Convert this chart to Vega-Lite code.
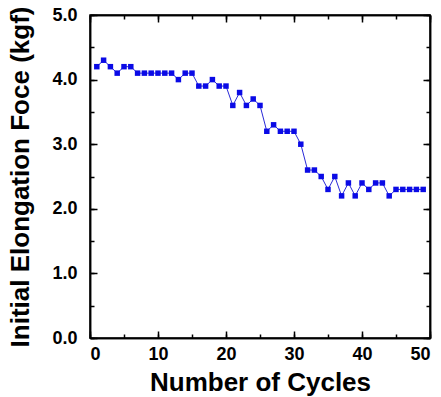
{
  "$schema": "https://vega.github.io/schema/vega-lite/v6.json",
  "width": 340,
  "height": 323,
  "autosize": {"type": "none"},
  "padding": {"left": 90, "top": 15, "right": 11, "bottom": 59},
  "background": "white",
  "config": {
    "view": {"stroke": "black", "strokeWidth": 1.5}
  },
  "data": {
    "values": [
      {"cycle": 1, "force": 4.2}, {"cycle": 2, "force": 4.3}, {"cycle": 3, "force": 4.2},
      {"cycle": 4, "force": 4.1}, {"cycle": 5, "force": 4.2}, {"cycle": 6, "force": 4.2},
      {"cycle": 7, "force": 4.1}, {"cycle": 8, "force": 4.1}, {"cycle": 9, "force": 4.1},
      {"cycle": 10, "force": 4.1}, {"cycle": 11, "force": 4.1}, {"cycle": 12, "force": 4.1},
      {"cycle": 13, "force": 4.0}, {"cycle": 14, "force": 4.1}, {"cycle": 15, "force": 4.1},
      {"cycle": 16, "force": 3.9}, {"cycle": 17, "force": 3.9}, {"cycle": 18, "force": 4.0},
      {"cycle": 19, "force": 3.9}, {"cycle": 20, "force": 3.9}, {"cycle": 21, "force": 3.6},
      {"cycle": 22, "force": 3.8}, {"cycle": 23, "force": 3.6}, {"cycle": 24, "force": 3.7},
      {"cycle": 25, "force": 3.6}, {"cycle": 26, "force": 3.2}, {"cycle": 27, "force": 3.3},
      {"cycle": 28, "force": 3.2}, {"cycle": 29, "force": 3.2}, {"cycle": 30, "force": 3.2},
      {"cycle": 31, "force": 3.0}, {"cycle": 32, "force": 2.6}, {"cycle": 33, "force": 2.6},
      {"cycle": 34, "force": 2.5}, {"cycle": 35, "force": 2.3}, {"cycle": 36, "force": 2.5},
      {"cycle": 37, "force": 2.2}, {"cycle": 38, "force": 2.4}, {"cycle": 39, "force": 2.2},
      {"cycle": 40, "force": 2.4}, {"cycle": 41, "force": 2.3}, {"cycle": 42, "force": 2.4},
      {"cycle": 43, "force": 2.4}, {"cycle": 44, "force": 2.2}, {"cycle": 45, "force": 2.3},
      {"cycle": 46, "force": 2.3}, {"cycle": 47, "force": 2.3}, {"cycle": 48, "force": 2.3},
      {"cycle": 49, "force": 2.3}
    ]
  },
  "layer": [
    {
      "mark": {"type": "line", "color": "#2a2ad8", "strokeWidth": 1},
      "encoding": {
        "x": {
          "field": "cycle", "type": "quantitative",
          "scale": {"domain": [0, 50], "nice": false},
          "axis": {
            "orient": "bottom",
            "title": "Number of Cycles",
            "tickCount": 5,
            "grid": false,
            "domainColor": "black",
            "domainWidth": 1.5,
            "tickColor": "black",
            "tickWidth": 1.5,
            "tickSize": -7,
            "labelFont": "Liberation Sans",
            "labelFontWeight": "bold",
            "labelFontSize": 18,
            "labelColor": "black",
            "labelPadding": 14,
            "titleFont": "Liberation Sans",
            "titleFontWeight": "bold",
            "titleFontSize": 26,
            "titleColor": "black",
            "titlePadding": 6
          }
        },
        "y": {
          "field": "force", "type": "quantitative",
          "scale": {"domain": [0, 5], "nice": false},
          "axis": {
            "orient": "left",
            "title": "Initial Elongation Foce (kgf)",
            "tickCount": 5,
            "format": ".1f",
            "grid": false,
            "domainColor": "black",
            "domainWidth": 1.5,
            "tickColor": "black",
            "tickWidth": 1.5,
            "tickSize": -7,
            "labelFont": "Liberation Sans",
            "labelFontWeight": "bold",
            "labelFontSize": 18,
            "labelColor": "black",
            "labelPadding": 20,
            "titleFont": "Liberation Sans",
            "titleFontWeight": "bold",
            "titleFontSize": 26,
            "titleColor": "black",
            "titlePadding": 18
          }
        }
      }
    },
    {
      "mark": {"type": "square", "color": "#0a0ae6", "size": 30, "opacity": 1, "filled": true},
      "encoding": {
        "x": {
          "field": "cycle", "type": "quantitative",
          "axis": {"orient": "top", "title": null, "tickCount": 5, "labels": false, "grid": false, "domainColor": "black", "domainWidth": 1.5, "tickColor": "black", "tickWidth": 1.5, "tickSize": -7}
        },
        "y": {
          "field": "force", "type": "quantitative",
          "axis": {"orient": "right", "title": null, "tickCount": 5, "labels": false, "grid": false, "domainColor": "black", "domainWidth": 1.5, "tickColor": "black", "tickWidth": 1.5, "tickSize": -7}
        }
      }
    },
    {
      "mark": {"type": "point", "opacity": 0},
      "encoding": {
        "x": {
          "field": "cycle", "type": "quantitative",
          "axis": {"orient": "bottom", "title": null, "tickCount": 10, "labels": false, "grid": false, "domainColor": "black", "domainWidth": 1.5, "tickColor": "black", "tickWidth": 1.5, "tickSize": -4}
        },
        "y": {
          "field": "force", "type": "quantitative",
          "axis": {"orient": "left", "title": null, "tickCount": 10, "labels": false, "grid": false, "domainColor": "black", "domainWidth": 1.5, "tickColor": "black", "tickWidth": 1.5, "tickSize": -4}
        }
      }
    },
    {
      "mark": {"type": "point", "opacity": 0},
      "encoding": {
        "x": {
          "field": "cycle", "type": "quantitative",
          "axis": {"orient": "top", "title": null, "tickCount": 10, "labels": false, "grid": false, "domainColor": "black", "domainWidth": 1.5, "tickColor": "black", "tickWidth": 1.5, "tickSize": -4}
        },
        "y": {
          "field": "force", "type": "quantitative",
          "axis": {"orient": "right", "title": null, "tickCount": 10, "labels": false, "grid": false, "domainColor": "black", "domainWidth": 1.5, "tickColor": "black", "tickWidth": 1.5, "tickSize": -4}
        }
      }
    }
  ],
  "resolve": {"axis": {"x": "independent", "y": "independent"}}
}
